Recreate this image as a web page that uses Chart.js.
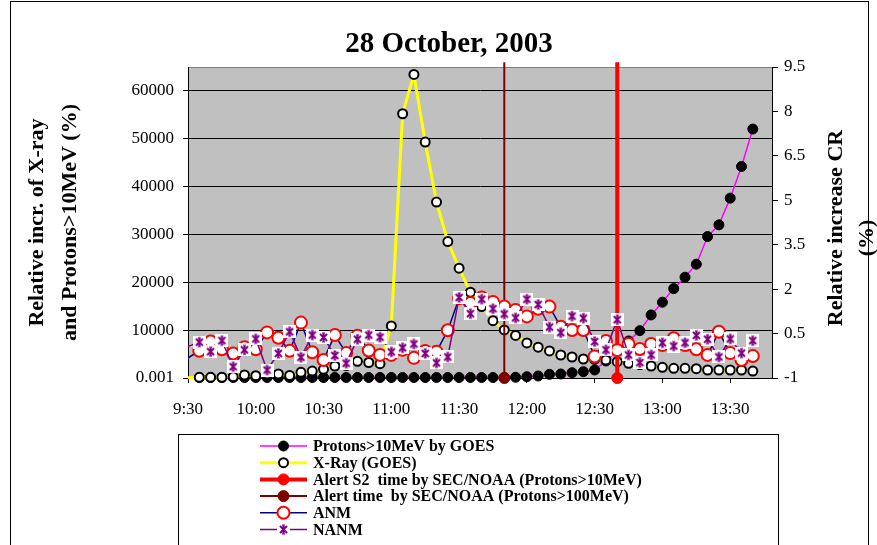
<!DOCTYPE html>
<html>
<head>
<meta charset="utf-8">
<title>28 October, 2003</title>
<script src="https://cdn.jsdelivr.net/npm/chart.js@4.4.1/dist/chart.umd.min.js"></script>
<style>
  body { margin: 0; background: #fff; }
  canvas { display: block; }
</style>
</head>
<body>
<canvas id="crChart" width="877" height="545"></canvas>
<script>
// 5 minute data, first point (9:25) lies just left of the axis and is clipped
var times = ['9:25', '9:35', '9:40', '9:45', '9:50', '9:55', '10:00', '10:05', '10:10', '10:15',
  '10:20', '10:25', '10:30', '10:35', '10:40', '10:45', '10:50', '10:55', '11:00', '11:05',
  '11:10', '11:15', '11:20', '11:25', '11:30', '11:35', '11:40', '11:45', '11:50', '11:55',
  '12:00', '12:05', '12:10', '12:15', '12:20', '12:25', '12:30', '12:35', '12:40', '12:45',
  '12:50', '12:55', '13:00', '13:05', '13:10', '13:15', '13:20', '13:25', '13:30', '13:35', '13:40'];

// Relative increase (%) - left axis
var protons = [100, 100, 100, 100, 100, 100, 100, 100, 100, 100,
  100, 100, 100, 100, 100, 100, 100, 100, 100, 100,
  100, 100, 100, 100, 100, 100, 100, 100, 100, 150,
  270, 420, 770, 840, 1110, 1320, 1670, 3560, 5650, 7740,
  9900, 13180, 15840, 18680, 21070, 23790, 29560, 32010, 37590, 44200, 52030];
var xray = [0, 150, 150, 150, 270, 630, 480, 840, 840, 520,
  1190, 1460, 1820, 2510, 2600, 3490, 3240, 3000, 10880, 55230,
  63450, 49310, 36760, 28520, 22950, 17930, 14920, 11990, 10040, 8890,
  7320, 6440, 5650, 4810, 4390, 3970, 3870, 3770, 3410, 3080,
  2820, 2510, 2240, 2030, 2030, 1950, 1670, 1670, 1670, 1670, 1460];

// Relative increase CR (%) - right axis
var anm = [-0.57, -0.08, 0.23, -0.03, -0.17, 0.04, -0.03, 0.54, 0.36, -0.08,
  0.87, -0.13, -0.39, 0.45, -0.16, 0.43, -0.07, -0.22, -0.22, -0.05,
  -0.32, -0.09, -0.11, 0.61, 1.69, 1.53, 1.72, 1.57, 1.41, 1.30,
  1.08, 1.34, 1.41, 0.73, 0.62, 0.62, -0.27, 0.25, -0.06, 0.15,
  -0.02, 0.15, 0.11, 0.34, 0.11, -0.03, -0.22, 0.56, -0.16, -0.39, -0.26];
var nanm = [-0.08, 0.21, -0.11, 0.26, -0.62, -0.05, 0.32, -0.73, -0.17, 0.56,
  -0.30, 0.45, 0.37, -0.24, -0.50, 0.31, 0.45, 0.38, -0.12, 0.02,
  0.15, -0.17, -0.49, -0.29, 1.72, 1.17, 1.66, 1.34, 1.16, 1.03,
  1.66, 1.48, 0.72, 0.53, 1.09, 1.02, 0.23, -0.05, 0.97, -0.22,
  -0.48, -0.22, 0.19, 0.08, 0.19, 0.44, 0.31, -0.29, 0.32, -0.16, 0.26];

// SEC/NOAA alert times, drawn as vertical lines
var alertS2Time = '12:40';
var alert100Time = '11:50';
var alertLineTop = 66000;

var xTicks = ['9:30', '10:00', '10:30', '11:00', '11:30', '12:00', '12:30', '13:00', '13:30'];
var leftTicks = [0, 10000, 20000, 30000, 40000, 50000, 60000];
var rightTicks = [-1, 0.5, 2, 3.5, 5, 6.5, 8, 9.5];

var serif = "'Liberation Serif', 'Times New Roman', serif";
Chart.defaults.font.family = serif;
Chart.defaults.color = '#000';

function toMin(t) {
  var p = t.split(':');
  return parseInt(p[0], 10) * 60 + parseInt(p[1], 10);
}
function fmtMin(v) {
  var h = Math.floor(v / 60), m = Math.round(v - h * 60);
  return h + ':' + (m < 10 ? '0' : '') + m;
}
function pts(values) {
  return values.map(function (v, i) { return { x: toMin(times[i]), y: v }; });
}
function alertPts(t) {
  return [{ x: toMin(t), y: 0 }, { x: toMin(t), y: alertLineTop }];
}

// NANM marker: purple asterisk on a white square
function makeStar() {
  var c = document.createElement('canvas');
  c.width = 13; c.height = 13;
  var g = c.getContext('2d');
  g.fillStyle = '#fff';
  g.fillRect(0, 0, 13, 13);
  g.strokeStyle = '#800080';
  g.lineWidth = 2;
  g.beginPath();
  g.moveTo(3, 3); g.lineTo(10, 10);
  g.moveTo(10, 3); g.lineTo(3, 10);
  g.moveTo(6.5, 2); g.lineTo(6.5, 11);
  g.stroke();
  g.lineWidth = 1.2;
  g.beginPath();
  g.moveTo(5, 2); g.lineTo(8, 2);
  g.moveTo(5, 11); g.lineTo(8, 11);
  g.stroke();
  return c;
}
var starImg = makeStar();

var sideClip = { left: 0, top: false, right: false, bottom: false };

var bgPlugin = {
  id: 'bgPlugin',
  beforeDraw: function (chart) {
    var ctx = chart.ctx, a = chart.chartArea;
    ctx.save();
    ctx.fillStyle = '#fff';
    ctx.fillRect(0, 0, chart.width, chart.height);
    ctx.strokeStyle = '#000';
    ctx.lineWidth = 1;
    ctx.strokeRect(10.5, 1.5, 858, chart.height + 10);
    ctx.fillStyle = '#C0C0C0';
    ctx.fillRect(a.left, a.top, a.right - a.left, a.bottom - a.top);
    ctx.strokeStyle = '#808080';
    ctx.strokeRect(a.left + 0.5, a.top + 0.5, a.right - a.left, a.bottom - a.top);
    ctx.restore();
  }
};

function drawMarker(ctx, ds, x, y) {
  if (ds.pointStyle && ds.pointStyle.getContext) {
    ctx.drawImage(ds.pointStyle, x - ds.pointStyle.width / 2, y - ds.pointStyle.height / 2);
    return;
  }
  var r = Array.isArray(ds.pointRadius) ? ds.pointRadius[0] : ds.pointRadius;
  ctx.beginPath();
  ctx.arc(x, y, r, 0, Math.PI * 2);
  ctx.fillStyle = ds.pointBackgroundColor;
  ctx.fill();
  ctx.lineWidth = ds.pointBorderWidth || 1;
  ctx.strokeStyle = ds.pointBorderColor;
  ctx.stroke();
}

var sidePlugin = {
  id: 'sidePlugin',
  afterDraw: function (chart) {
    var ctx = chart.ctx;
    ctx.save();
    // right axis title
    ctx.fillStyle = '#000';
    ctx.font = 'bold 22px ' + serif;
    ctx.textAlign = 'center';
    ctx.textBaseline = 'middle';
    ctx.save();
    ctx.translate(836, 228);
    ctx.rotate(-Math.PI / 2);
    ctx.fillText('Relative increase CR', 0, 0);
    ctx.restore();
    ctx.save();
    ctx.translate(867, 238);
    ctx.rotate(-Math.PI / 2);
    ctx.fillText('(%)', 0, 0);
    ctx.restore();

    // legend box
    var bx = 178.5, by = 434.5;
    ctx.fillStyle = '#fff';
    ctx.fillRect(bx, by, 600, chart.height);
    ctx.strokeStyle = '#000';
    ctx.lineWidth = 1;
    ctx.strokeRect(bx, by, 600, chart.height);
    ctx.font = 'bold 16px ' + serif;
    ctx.textAlign = 'left';
    chart.data.datasets.forEach(function (ds, i) {
      var y = 446 + i * 16.7;
      ctx.strokeStyle = ds.borderColor;
      ctx.lineWidth = ds.borderWidth;
      ctx.beginPath();
      ctx.moveTo(260, y);
      ctx.lineTo(307, y);
      ctx.stroke();
      drawMarker(ctx, ds, 283.5, y);
      ctx.fillStyle = '#000';
      ctx.fillText(ds.label, 313, y + 1);
    });
    ctx.restore();
  }
};

var ctx = document.getElementById('crChart').getContext('2d');
var crChart = new Chart(ctx, {
  type: 'line',
  data: {
    datasets: [{
      label: 'Protons>10MeV by GOES',
      data: pts(protons),
      yAxisID: 'y',
      borderColor: '#FF00FF',
      borderWidth: 1.5,
      pointRadius: 5,
      pointBackgroundColor: '#000',
      pointBorderColor: '#000',
      pointBorderWidth: 1,
      clip: sideClip,
      order: 6
    }, {
      label: 'X-Ray (GOES)',
      data: pts(xray),
      yAxisID: 'y',
      borderColor: '#FFFF00',
      borderWidth: 3,
      pointRadius: 4.5,
      pointBackgroundColor: '#fff',
      pointBorderColor: '#000',
      pointBorderWidth: 2,
      clip: sideClip,
      order: 5
    }, {
      label: 'Alert S2  time by SEC/NOAA (Protons>10MeV)',
      data: alertPts(alertS2Time),
      yAxisID: 'y',
      borderColor: '#FF0000',
      borderWidth: 4,
      pointRadius: [5.5, 0],
      pointBackgroundColor: '#FF0000',
      pointBorderColor: '#FF0000',
      pointBorderWidth: 1,
      clip: false,
      order: 4
    }, {
      label: 'Alert time  by SEC/NOAA (Protons>100MeV)',
      data: alertPts(alert100Time),
      yAxisID: 'y',
      borderColor: '#800000',
      borderWidth: 2,
      pointRadius: [5.5, 0],
      pointBackgroundColor: '#800000',
      pointBorderColor: '#800000',
      pointBorderWidth: 1,
      clip: false,
      order: 3
    }, {
      label: 'ANM',
      data: pts(anm),
      yAxisID: 'y1',
      borderColor: '#000080',
      borderWidth: 1.5,
      pointRadius: 6,
      pointBackgroundColor: '#fff',
      pointBorderColor: '#FF0000',
      pointBorderWidth: 2,
      clip: sideClip,
      order: 2
    }, {
      label: 'NANM',
      data: pts(nanm),
      yAxisID: 'y1',
      borderColor: '#800080',
      borderWidth: 1.5,
      pointStyle: starImg,
      pointRadius: 7,
      clip: sideClip,
      order: 1
    }]
  },
  options: {
    responsive: false,
    animation: false,
    devicePixelRatio: 1,
    layout: { padding: { left: 21, right: 0, top: 0, bottom: 127 } },
    elements: { line: { tension: 0 } },
    plugins: {
      legend: { display: false },
      tooltip: { enabled: false },
      title: {
        display: true,
        text: '28 October, 2003',
        color: '#000',
        font: { size: 29, weight: 'bold' },
        padding: { top: 27.6, bottom: 4.6 }
      }
    },
    scales: {
      x: {
        type: 'linear',
        min: toMin('9:30'),
        max: 828.5,
        afterBuildTicks: function (s) {
          s.ticks = xTicks.map(function (t) { return { value: toMin(t) }; });
        },
        afterFit: function (s) { s.height = 40; },
        ticks: {
          callback: function (v) { return fmtMin(v); },
          font: { size: 17 },
          padding: 16,
          maxRotation: 0,
          autoSkip: false
        },
        grid: { drawOnChartArea: false, tickLength: 5, color: '#000' },
        border: { color: '#000', width: 1 }
      },
      y: {
        position: 'left',
        min: 0,
        max: 65000,
        afterBuildTicks: function (s) {
          s.ticks = leftTicks.map(function (v) { return { value: v }; });
        },
        afterFit: function (s) { s.width = 167; },
        ticks: {
          callback: function (v) { return v === 0 ? '0.001' : String(v); },
          font: { size: 17 },
          padding: 9
        },
        grid: { color: '#000', tickLength: 5 },
        border: { color: '#000', width: 1 },
        title: {
          display: true,
          text: ['Relative incr. of X-ray', 'and Protons>10MeV (%)'],
          color: '#000',
          font: { size: 22, weight: 'bold', lineHeight: 1.5 },
          padding: { top: 0, bottom: 0 }
        }
      },
      y1: {
        position: 'right',
        min: -1,
        max: 9.5,
        afterBuildTicks: function (s) {
          s.ticks = rightTicks.map(function (v) { return { value: v }; });
        },
        afterFit: function (s) { s.width = 105; },
        ticks: {
          callback: function (v) { return String(v); },
          font: { size: 17 },
          padding: 6
        },
        grid: { drawOnChartArea: false, tickLength: 6, color: '#000' },
        border: { color: '#000', width: 1 }
      }
    }
  },
  plugins: [bgPlugin, sidePlugin]
});
</script>
</body>
</html>
